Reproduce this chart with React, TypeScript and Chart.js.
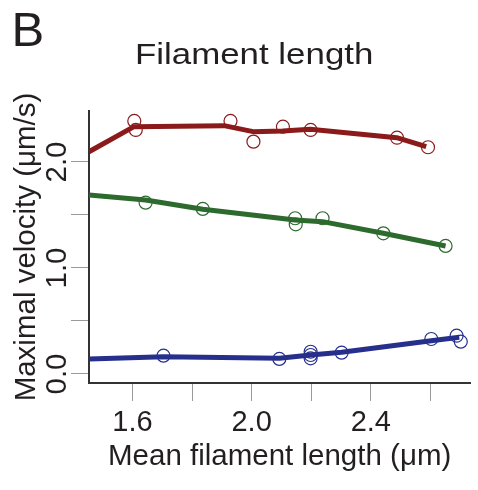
import React, { useEffect, useRef } from 'react';
import { Chart, registerables } from 'chart.js';

Chart.register(...registerables);

const PANEL_LABEL = 'B';
const TITLE = 'Filament length';
const X_TITLE = 'Mean filament length (μm)';
const Y_TITLE = 'Maximal velocity (μm/s)';

const X_TICKS = [1.6, 1.8, 2.0, 2.2, 2.4, 2.6];
const X_TICK_LABELS = ['1.6', '', '2.0', '', '2.4', ''];
const Y_TICKS = [0, 0.5, 1.0, 1.5, 2.0];
const Y_TICK_LABELS = ['0.0', '', '1.0', '', '2.0'];
const X_MIN = 1.454;
const X_MAX = 2.734;
const Y_MIN = -0.085;
const Y_MAX = 2.481;

// Red series (top)
const RED_PTS_X = [1.606, 1.611, 1.929, 2.006, 2.105, 2.198, 2.488, 2.592];
const RED_PTS_Y = [2.387, 2.302, 2.387, 2.192, 2.333, 2.302, 2.229, 2.139];
const RED_FIT_X = [1.454, 1.605, 1.907, 2.005, 2.104, 2.197, 2.487, 2.586];
const RED_FIT_Y = [2.097, 2.333, 2.343, 2.286, 2.292, 2.308, 2.229, 2.145];

// Green series (middle)
const GREEN_PTS_X = [1.644, 1.836, 2.146, 2.148, 2.238, 2.442, 2.651];
const GREEN_PTS_Y = [1.616, 1.557, 1.469, 1.412, 1.469, 1.327, 1.208];
const GREEN_FIT_X = [1.454, 1.644, 1.836, 2.146, 2.238, 2.442, 2.651];
const GREEN_FIT_Y = [1.689, 1.642, 1.554, 1.453, 1.437, 1.327, 1.208];

// Blue series (bottom)
const BLUE_PTS_X = [1.704, 2.093, 2.198, 2.198, 2.198, 2.302, 2.603, 2.688, 2.702];
const BLUE_PTS_Y = [0.173, 0.142, 0.21, 0.179, 0.148, 0.201, 0.33, 0.361, 0.305];
const BLUE_FIT_X = [1.454, 1.704, 2.093, 2.198, 2.302, 2.603, 2.697];
const BLUE_FIT_Y = [0.142, 0.163, 0.148, 0.179, 0.205, 0.314, 0.346];

const RED = '#8b1a1a';
const GREEN = '#2d6a2d';
const BLUE = '#262f8c';
const FONT = "'Liberation Sans', Arial, Helvetica, sans-serif";
const TEXT = '#231f20';

const zip = (xs: number[], ys: number[]) => xs.map((x, i) => ({ x, y: ys[i] }));

const fit = (xs: number[], ys: number[], color: string) => ({
  data: zip(xs, ys),
  showLine: true,
  borderColor: color,
  backgroundColor: color,
  borderWidth: 5,
  pointRadius: 0,
  tension: 0,
  borderJoinStyle: 'round' as const,
  clip: 0,
  order: 0,
});

const pts = (xs: number[], ys: number[], color: string) => ({
  data: zip(xs, ys),
  showLine: false,
  borderColor: color,
  backgroundColor: 'rgba(0,0,0,0)',
  pointRadius: 6.5,
  pointBorderWidth: 1.2,
  pointHoverRadius: 6.5,
  order: 1,
});

export default function App() {
  const ref = useRef<HTMLCanvasElement | null>(null);

  useEffect(() => {
    if (!ref.current) return;
    const chart = new Chart(ref.current, {
      type: 'scatter',
      data: {
        datasets: [
          pts(RED_PTS_X, RED_PTS_Y, RED),
          pts(GREEN_PTS_X, GREEN_PTS_Y, GREEN),
          pts(BLUE_PTS_X, BLUE_PTS_Y, BLUE),
          fit(RED_FIT_X, RED_FIT_Y, RED),
          fit(GREEN_FIT_X, GREEN_FIT_Y, GREEN),
          fit(BLUE_FIT_X, BLUE_FIT_Y, BLUE),
        ] as any,
      },
      options: {
        responsive: false,
        animation: false,
        devicePixelRatio: 1,
        layout: { padding: { left: 0, right: 0, top: 111, bottom: 0 } },
        plugins: {
          legend: { display: false },
          tooltip: { enabled: false },
          title: { display: false },
        },
        scales: {
          x: {
            type: 'linear',
            min: X_MIN,
            max: X_MAX,
            afterBuildTicks: (s: any) => {
              s.ticks = X_TICKS.map((v) => ({ value: v }));
            },
            afterFit: (s: any) => {
              s.height = 107;
            },
            grid: {
              drawOnChartArea: false,
              drawTicks: true,
              tickLength: 18,
              color: '#9a9a9a',
              tickColor: '#9a9a9a',
              lineWidth: 1,
            },
            border: { display: true, color: '#333333', width: 2 },
            ticks: {
              autoSkip: false,
              maxRotation: 0,
              minRotation: 0,
              padding: 4.5,
              color: TEXT,
              font: { family: FONT, size: 29 },
              callback: (_v: any, i: number) => X_TICK_LABELS[i],
            },
            title: {
              display: true,
              text: X_TITLE,
              color: TEXT,
              font: { family: FONT, size: 29.5 },
              padding: { top: 0, bottom: 15 },
            },
          },
          y: {
            type: 'linear',
            min: Y_MIN,
            max: Y_MAX,
            afterBuildTicks: (s: any) => {
              s.ticks = Y_TICKS.map((v) => ({ value: v }));
            },
            afterFit: (s: any) => {
              s.width = 89;
            },
            grid: {
              drawOnChartArea: false,
              drawTicks: true,
              tickLength: 18,
              color: '#9a9a9a',
              tickColor: '#9a9a9a',
              lineWidth: 1,
            },
            border: { display: true, color: '#333333', width: 2 },
            ticks: {
              autoSkip: false,
              minRotation: 90,
              maxRotation: 90,
              crossAlign: 'center',
              padding: -7,
              color: TEXT,
              font: { family: FONT, size: 29.5 },
              callback: (_v: any, i: number) => Y_TICK_LABELS[i],
            },
            title: {
              display: true,
              text: Y_TITLE,
              color: TEXT,
              font: { family: FONT, size: 29.5 },
              padding: { top: 9.5, bottom: 0 },
            },
          },
        },
      },
    });
    return () => chart.destroy();
  }, []);

  return (
    <div style={{ position: 'absolute', left: 0, top: 0, width: 478, height: 490, background: '#fff' }}>
      <canvas ref={ref} width={478} height={490} style={{ position: 'absolute', left: 0, top: 0 }} />
      <div
        style={{
          position: 'absolute',
          left: 11.5,
          top: 4.6,
          fontFamily: FONT,
          fontSize: 49,
          lineHeight: 1,
          color: TEXT,
          whiteSpace: 'nowrap',
        }}
      >
        {PANEL_LABEL}
      </div>
      <div
        style={{
          position: 'absolute',
          left: 135,
          top: 39,
          fontFamily: FONT,
          fontSize: 29.3,
          lineHeight: 1,
          color: TEXT,
          whiteSpace: 'nowrap',
          transform: 'scaleX(1.19)',
          transformOrigin: 'left top',
        }}
      >
        {TITLE}
      </div>
    </div>
  );
}
